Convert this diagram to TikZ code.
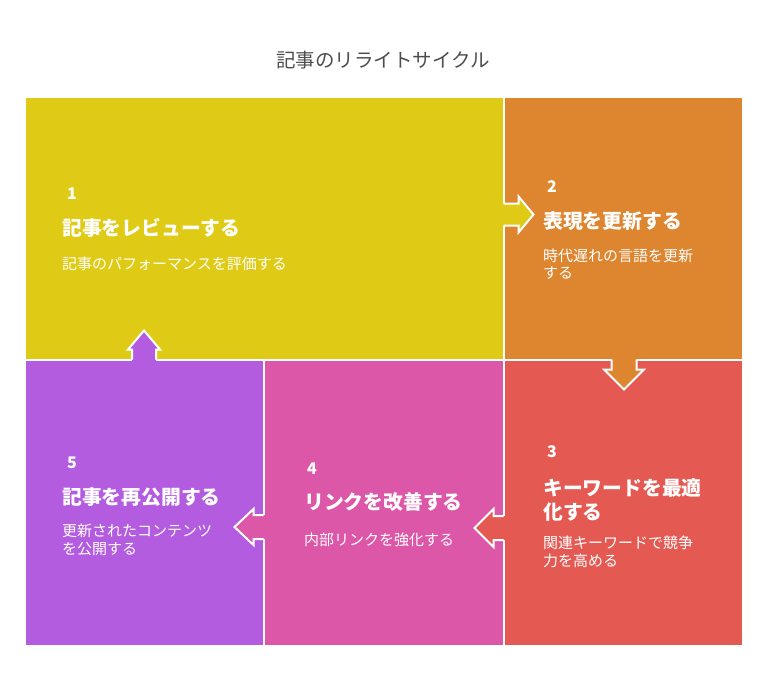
\documentclass[tikz,border=0pt]{standalone}
\usepackage{fontspec}
\setmainfont{Noto Sans CJK JP}
\definecolor{cyel}{HTML}{DFCB15}
\definecolor{cora}{HTML}{DE8530}
\definecolor{cred}{HTML}{E45A52}
\definecolor{cpink}{HTML}{DC57A8}
\definecolor{cpur}{HTML}{B45CE0}
\definecolor{ctitle}{HTML}{4D4D4D}
\newcommand\flowarrow[7]{% base, angle, colour, shaft half, head half, shaft length, head length
  \begin{scope}[shift={(#1)}, rotate=#2]
    \fill[#3] (-3,-#4) -- (#6,-#4) -- (#6,-#5) -- (#6+#7,0) -- (#6,#5) -- (#6,#4) -- (-3,#4) -- cycle;
    \draw[arrowline] (0,-#4) -- (#6,-#4) -- (#6,-#5) -- (#6+#7,0) -- (#6,#5) -- (#6,#4) -- (0,#4);
  \end{scope}}
\begin{document}
\begin{tikzpicture}[x=1pt,y=-1pt,
  panel/.style={draw=white, line width=2pt, inner sep=0pt, outer sep=0pt, anchor=north west},
  num/.style={text=white, font=\fontsize{16}{16}\selectfont\bfseries, anchor=west, inner sep=0pt},
  head/.style={text=white, font=\fontsize{19.8}{24}\selectfont\bfseries, anchor=west, inner sep=0pt, align=left},
  desc/.style={text=white, font=\fontsize{15}{17.5}\selectfont, anchor=west, inner sep=0pt, align=left},
  arrowline/.style={draw=white, line width=2pt, line join=miter}]
\useasboundingbox[fill=white] (0,0) rectangle (768,696);
\node[font=\fontsize{19.5}{22}\selectfont, text=ctitle] (title) at (383,60) {記事のリライトサイクル};
% panels
\node[panel, fill=cyel, minimum width=478.5pt, minimum height=262.5pt] (p1) at (25,97) {};
\node[panel, fill=cora, minimum width=239.5pt, minimum height=262.5pt] (p2) at (503.5,97) {};
\node[panel, fill=cred, minimum width=239.5pt, minimum height=286.5pt] (p3) at (503.5,359.5) {};
\node[panel, fill=cpink, minimum width=240pt, minimum height=286.5pt] (p4) at (263.5,359.5) {};
\node[panel, fill=cpur, minimum width=238.5pt, minimum height=286.5pt] (p5) at (25,359.5) {};
% arrow bases
\coordinate (b12) at (503.5,214.5);
\coordinate (b23) at (624,359.5);
\coordinate (b34) at (503.5,528);
\coordinate (b45) at (263.5,527);
\coordinate (b51) at (144,359.5);
\flowarrow{b12}{0}{cyel}{11}{18}{15}{15}
\flowarrow{b23}{-90}{cora}{12.5}{20}{10}{20}
\flowarrow{b34}{180}{cred}{12}{19}{10}{19}
\flowarrow{b45}{180}{cpink}{12}{18}{10}{19}
\flowarrow{b51}{90}{cpur}{12}{16}{10}{19}
% texts
\node[num] (n1) at (67,194) {1};
\node[head] (t1) at (62,228) {記事をレビューする};
\node[desc] (d1) at (62,264) {記事のパフォーマンスを評価する};
\node[num] (n2) at (547,187) {2};
\node[head] (t2) at (543,221) {表現を更新する};
\node[desc] (d2) at (543,264) {時代遅れの言語を更新\\する};
\node[num] (n3) at (547,452) {3};
\node[head] (t3) at (543,500) {キーワードを最適\\化する};
\node[desc] (d3) at (543,552) {関連キーワードで競争\\力を高める};
\node[num] (n4) at (307,469) {4};
\node[head] (t4) at (304,502) {リンクを改善する};
\node[desc] (d4) at (304,540) {内部リンクを強化する};
\node[num] (n5) at (67,463) {5};
\node[head] (t5) at (62,497) {記事を再公開する};
\node[desc] (d5) at (62,540) {更新されたコンテンツ\\を公開する};
\end{tikzpicture}
\end{document}
